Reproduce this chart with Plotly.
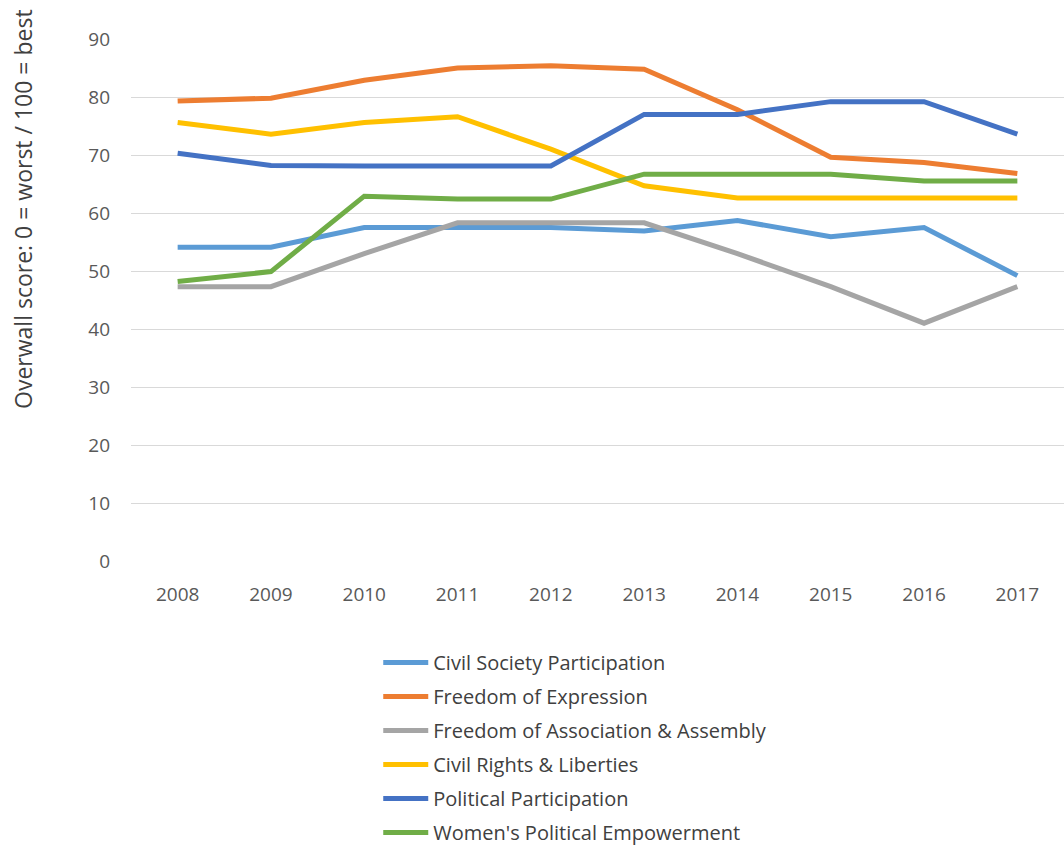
import plotly.graph_objects as go

years = ["2008", "2009", "2010", "2011", "2012", "2013", "2014", "2015", "2016", "2017"]

civil_society = [54.1, 54.1, 57.5, 57.5, 57.5, 56.9, 58.7, 55.9, 57.5, 49.2]
freedom_expression = [79.3, 79.8, 82.9, 85.0, 85.4, 84.8, 77.8, 69.6, 68.7, 66.8]
freedom_association = [47.3, 47.3, 53.0, 58.3, 58.3, 58.3, 53.0, 47.3, 41.0, 47.3]
civil_rights = [75.6, 73.6, 75.6, 76.6, 71.0, 64.7, 62.6, 62.6, 62.6, 62.6]
political_participation = [70.3, 68.2, 68.1, 68.1, 68.1, 77.0, 77.0, 79.2, 79.2, 73.6]
womens_empowerment = [48.2, 49.9, 62.9, 62.4, 62.4, 66.7, 66.7, 66.7, 65.5, 65.5]

series = [
    ("Civil Society Participation", civil_society, "#5B9BD5"),
    ("Freedom of Expression", freedom_expression, "#ED7D31"),
    ("Freedom of Association & Assembly", freedom_association, "#A5A5A5"),
    ("Civil Rights & Liberties", civil_rights, "#FFC000"),
    ("Political Participation", political_participation, "#4472C4"),
    ("Women's Political Empowerment", womens_empowerment, "#70AD47"),
]

fig = go.Figure()
for i, (name, vals, color) in enumerate(series):
    fig.add_trace(go.Scatter(
        x=years, y=vals, name=name, mode="lines",
        line=dict(color=color, width=5),
        legendgroup=f"g{i}",
    ))

font_family = "Open Sans, Lato, sans-serif"
fig.update_layout(
    width=1064, height=850,
    margin=dict(l=131, r=0, t=39, b=289, autoexpand=False),
    paper_bgcolor="white", plot_bgcolor="white",
    font=dict(family=font_family, size=19, color="#595959"),
    showlegend=True,
    legend=dict(
        orientation="v", x=0.265, xanchor="left", y=-0.157, yanchor="top",
        font=dict(size=20, color="#404040"),
        tracegroupgap=5, itemwidth=45,
        bgcolor="rgba(0,0,0,0)",
    ),
    xaxis=dict(
        type="category", range=[-0.5, 9.5], showgrid=False, zeroline=False, showline=False,
        ticks="", ticklabelstandoff=20, tickfont=dict(size=19, color="#595959"),
    ),
    yaxis=dict(
        range=[0, 90], dtick=10, showgrid=True, gridcolor="#D9D9D9", gridwidth=1.3,
        zeroline=False, showline=False, ticks="", ticklabelstandoff=20,
        tickfont=dict(size=19, color="#595959"),
    ),
    annotations=[dict(
        text="Overwall score: 0 = worst / 100 = best",
        xref="paper", yref="paper", x=-0.116, y=0.674,
        xanchor="center", yanchor="middle", textangle=-90, showarrow=False,
        font=dict(size=23, color="#404040", family=font_family),
    )],
)

fig.write_html("out.html")
